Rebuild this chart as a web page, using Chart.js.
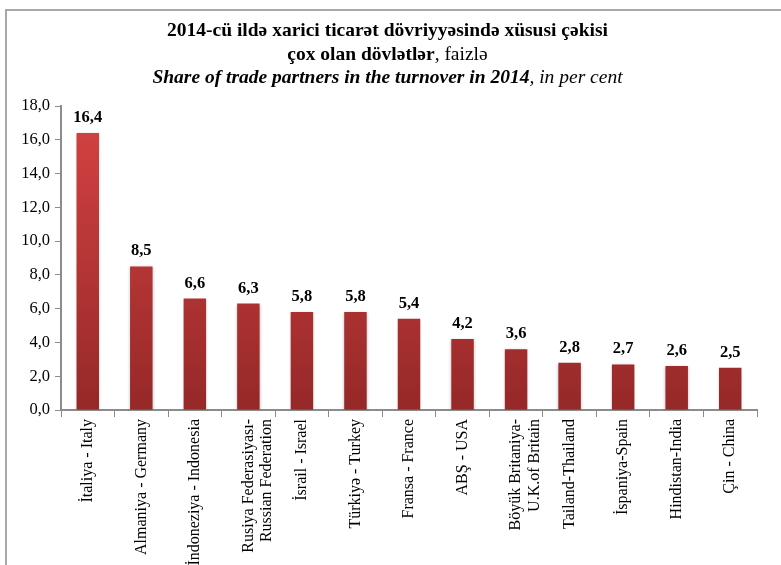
<!DOCTYPE html>
<html>
<head>
<meta charset="utf-8">
<script src="https://cdn.jsdelivr.net/npm/chart.js@4.4.1/dist/chart.umd.min.js"></script>
<style>
    html, body { margin: 0; padding: 0; background: #fff; }
    #wrap { position: relative; width: 781px; height: 565px; overflow: hidden; }
    #frame {
        position: absolute; left: 5px; top: 9px; right: -10px; bottom: -10px;
        border-left: 2px solid #a8a8a8; border-top: 2px solid #a8a8a8;
    }
    #title {
        position: absolute; left: 0; top: 18px; width: 775px;
        text-align: center; font-family: "Liberation Serif", "Times New Roman", serif;
        font-size: 19.5px; line-height: 23.5px; color: #000;
    }
    #chart { position: absolute; left: 0; top: 0; }
</style>
</head>
<body>
<div id="wrap">
    <div id="frame"></div>
    <canvas id="chart" width="781" height="565"></canvas>
    <div id="title">
        <div><b>2014-cü ildə xarici ticarət dövriyyəsində xüsusi çəkisi</b></div>
        <div><b>çox olan dövlətlər</b>, faizlə</div>
        <div><i><b>Share of trade partners in the turnover in 2014</b>, in per cent</i></div>
    </div>
</div>
<script>
const categories = [
    'İtaliya - Italy',
    'Almaniya - Germany',
    'İndoneziya - Indonesia',
    ['Rusiya Federasiyası-', 'Russian Federation'],
    'İsrail - Israel',
    'Türkiyə - Turkey',
    'Fransa - France',
    'ABŞ - USA',
    ['Böyük Britaniya-', 'U.K.of Britain'],
    'Tailand-Thailand',
    'İspaniya-Spain',
    'Hindistan-India',
    'Çin - China'
];
const shares = [16.4, 8.5, 6.6, 6.3, 5.8, 5.8, 5.4, 4.2, 3.6, 2.8, 2.7, 2.6, 2.5];
const yMin = 0;
const yMax = 18;
const yStep = 2;

const serif = '"Liberation Serif", "Times New Roman", serif';

function fmt(v) {
    return v.toFixed(1).replace('.', ',');
}

function barGradient(context) {
    const chart = context.chart;
    const area = chart.chartArea;
    if (!area) return '#c03636';
    const g = chart.ctx.createLinearGradient(0, area.top, 0, area.bottom);
    g.addColorStop(0, '#d64343');
    g.addColorStop(1, '#962828');
    return g;
}

// value labels above the bars
const valueLabels = {
    id: 'valueLabels',
    afterDatasetsDraw(chart) {
        const ctx = chart.ctx;
        const meta = chart.getDatasetMeta(0);
        ctx.save();
        ctx.font = 'bold 16.5px ' + serif;
        ctx.fillStyle = '#000';
        ctx.textAlign = 'center';
        ctx.textBaseline = 'alphabetic';
        meta.data.forEach((bar, i) => {
            ctx.fillText(fmt(shares[i]), bar.x, bar.y - 11);
        });
        ctx.restore();
    }
};

// soft shadow around bars
const barShadow = {
    id: 'barShadow',
    beforeDatasetDraw(chart) {
        const ctx = chart.ctx;
        ctx.save();
        ctx.shadowColor = 'rgba(0,0,0,0.25)';
        ctx.shadowBlur = 3;
        ctx.shadowOffsetX = 0;
        ctx.shadowOffsetY = 1;
    },
    afterDatasetDraw(chart) {
        chart.ctx.restore();
    }
};

new Chart(document.getElementById('chart').getContext('2d'), {
    type: 'bar',
    data: {
        labels: categories,
        datasets: [{
            data: shares,
            backgroundColor: barGradient,
            borderWidth: 0,
            barPercentage: 0.42,
            categoryPercentage: 1
        }]
    },
    options: {
        responsive: false,
        animation: false,
        events: [],
        layout: { padding: { top: 106, right: 24, bottom: 0, left: 0 } },
        plugins: {
            legend: { display: false },
            title: { display: false },
            tooltip: { enabled: false }
        },
        scales: {
            x: {
                grid: {
                    offset: true,
                    drawOnChartArea: false,
                    color: '#8c8c8c',
                    tickLength: 7
                },
                border: { color: '#8c8c8c', width: 2 },
                ticks: {
                    minRotation: 90,
                    maxRotation: 90,
                    autoSkip: false,
                    color: '#000',
                    padding: 2,
                    font: { family: serif, size: 16, lineHeight: 1.15 }
                },
                afterFit(scale) { scale.height = 155; }
            },
            y: {
                min: yMin,
                max: yMax,
                grid: {
                    drawOnChartArea: false,
                    color: '#8c8c8c',
                    tickLength: 6
                },
                border: { color: '#8c8c8c', width: 2 },
                ticks: {
                    stepSize: yStep,
                    color: '#000',
                    padding: 5,
                    font: { family: serif, size: 16.5 },
                    callback: v => fmt(v)
                },
                afterFit(scale) { scale.width = 61; }
            }
        }
    },
    plugins: [barShadow, valueLabels]
});
</script>
</body>
</html>
